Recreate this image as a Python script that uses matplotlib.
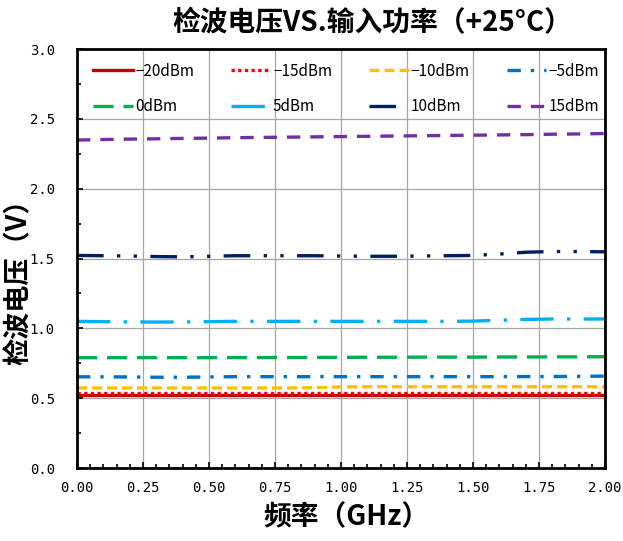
import matplotlib
matplotlib.use('Agg')
from matplotlib import pyplot
from matplotlib.ticker import MultipleLocator, FormatStrFormatter

pyplot.rcParams['font.family'] = ['Noto Sans CJK SC', 'DejaVu Sans']

# frequency points (GHz)
freq = [0.0, 0.1, 0.2, 0.3, 0.4, 0.5, 0.6, 0.7, 0.8, 0.9, 1.0,
        1.1, 1.2, 1.3, 1.4, 1.5, 1.6, 1.7, 1.8, 1.9, 2.0]

# detector output voltage (V) at each input power level
v_m20 = [0.525, 0.525, 0.525, 0.525, 0.525, 0.525, 0.525, 0.525, 0.525, 0.525, 0.525,
         0.525, 0.525, 0.525, 0.525, 0.525, 0.525, 0.525, 0.525, 0.525, 0.525]
v_m15 = [0.539, 0.539, 0.539, 0.539, 0.539, 0.539, 0.539, 0.539, 0.539, 0.539, 0.539,
         0.539, 0.539, 0.539, 0.539, 0.539, 0.539, 0.539, 0.539, 0.539, 0.539]
v_m10 = [0.573, 0.573, 0.573, 0.573, 0.573, 0.573, 0.573, 0.573, 0.573, 0.575, 0.581,
         0.582, 0.582, 0.582, 0.582, 0.582, 0.582, 0.582, 0.582, 0.582, 0.582]
v_m5 = [0.653, 0.653, 0.652, 0.650, 0.650, 0.652, 0.654, 0.654, 0.654, 0.654, 0.654,
        0.654, 0.654, 0.654, 0.654, 0.654, 0.654, 0.655, 0.655, 0.656, 0.658]
v_0 = [0.790, 0.790, 0.790, 0.790, 0.790, 0.790, 0.791, 0.791, 0.791, 0.792, 0.792,
       0.793, 0.793, 0.794, 0.794, 0.794, 0.795, 0.795, 0.796, 0.796, 0.797]
v_5 = [1.050, 1.048, 1.046, 1.045, 1.046, 1.048, 1.050, 1.050, 1.050, 1.050, 1.050,
       1.050, 1.050, 1.050, 1.050, 1.052, 1.058, 1.064, 1.067, 1.067, 1.067]
v_10 = [1.522, 1.520, 1.518, 1.514, 1.512, 1.516, 1.520, 1.520, 1.520, 1.520, 1.518,
        1.516, 1.516, 1.518, 1.520, 1.522, 1.532, 1.545, 1.550, 1.550, 1.548]
v_15 = [2.348, 2.352, 2.355, 2.357, 2.360, 2.362, 2.365, 2.367, 2.369, 2.371, 2.373,
        2.375, 2.377, 2.379, 2.381, 2.383, 2.385, 2.387, 2.390, 2.392, 2.395]

labels = ['\u221220dBm', '\u221215dBm', '\u221210dBm', '\u22125dBm',
          '0dBm', '5dBm', '10dBm', '15dBm']
series = [v_m20, v_m15, v_m10, v_m5, v_0, v_5, v_10, v_15]
colors = ['#C00000', '#FF0000', '#FFC000', '#0070C0',
          '#00B050', '#00B0F0', '#002060', '#7030A0']
styles = ['-', (0, (1, 1)), (0, (3, 1.5)), (0, (4, 3, 1, 3)),
          (0, (6, 3)), (0, (10, 4, 1, 4)), (0, (8, 4, 1, 4, 1, 4)), (0, (4, 3))]

fig = pyplot.figure(figsize=(6.23, 5.41), dpi=100)
ax = fig.add_axes([0.1236, 0.1349, 0.8475, 0.7745])

lines = []
for vals, lab, col, ls in zip(series, labels, colors, styles):
    ln, = ax.plot(freq, vals, color=col, linestyle=ls, linewidth=2.4, label=lab)
    lines.append(ln)

ax.set_xlim(0, 2)
ax.set_ylim(0, 3)
ax.xaxis.set_major_locator(MultipleLocator(0.25))
ax.xaxis.set_minor_locator(MultipleLocator(0.05))
ax.yaxis.set_major_locator(MultipleLocator(0.5))
ax.yaxis.set_minor_locator(MultipleLocator(0.25))
ax.xaxis.set_major_formatter(FormatStrFormatter('%.2f'))
ax.yaxis.set_major_formatter(FormatStrFormatter('%.1f'))
ax.grid(True, which='major', color='#A6A6A6', linewidth=0.9)
ax.set_axisbelow(True)
ax.tick_params(which='both', direction='in', top=False, right=False, width=1.2)
ax.tick_params(which='major', length=4)
ax.tick_params(which='minor', length=3)
ax.tick_params(axis='y', pad=16)
ax.tick_params(axis='x', pad=9)
for t in ax.get_xticklabels() + ax.get_yticklabels():
    t.set_fontfamily('DejaVu Sans Mono')
    t.set_fontsize(10)
for sp in ax.spines.values():
    sp.set_linewidth(2)

ax.set_xlabel('频率（GHz）', fontsize=20, fontweight='bold')
ax.xaxis.set_label_coords(0.51, -0.085)
ax.set_ylabel('检波电压（V）', fontsize=19.5, fontweight='bold')
ax.yaxis.set_label_coords(-0.085, 0.46)
fig.text(0.598, 0.958, '检波电压VS.输入功率（+25°C）', fontsize=20, fontweight='bold',
         ha='center', va='center')

# legend filled row by row
order = [0, 4, 1, 5, 2, 6, 3, 7]
ax.legend([lines[i] for i in order], [labels[i] for i in order],
          loc='upper center', bbox_to_anchor=(0.51, 1.0), ncol=4, frameon=False,
          fontsize=11, handlelength=2.6, handletextpad=0.15, columnspacing=2.4,
          labelspacing=1.2)

fig.savefig('out.png', dpi=100)
